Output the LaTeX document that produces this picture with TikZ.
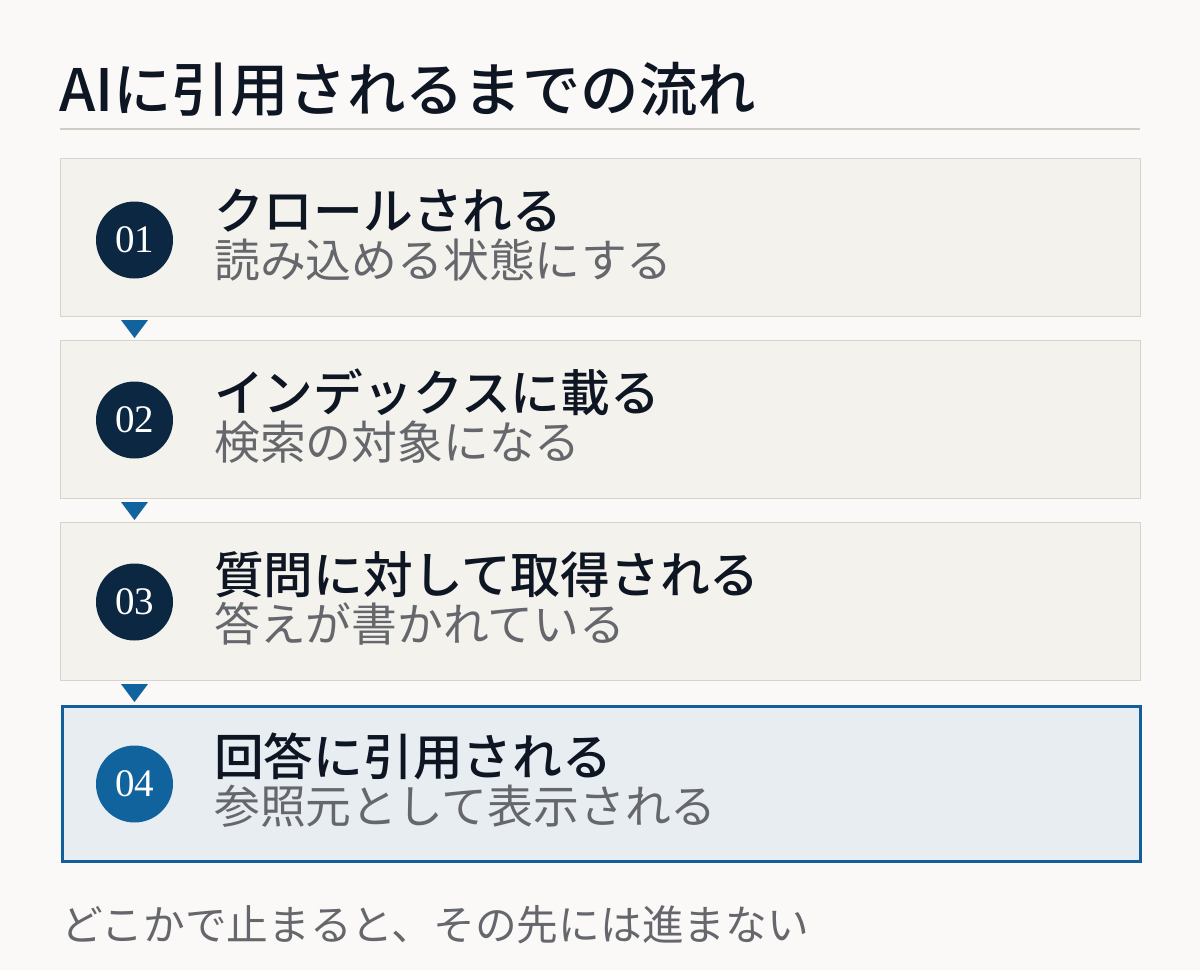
\documentclass[tikz,border=0pt]{standalone}
\usepackage{fontspec}
\setmainfont{Noto Sans CJK JP}
\newfontfamily\jpmed{Noto Sans CJK JP Medium}
\newfontfamily\numfont{Liberation Serif}
\usetikzlibrary{calc}
\definecolor{bgc}{HTML}{FAF9F7}
\definecolor{boxfill}{HTML}{F3F2EC}
\definecolor{boxline}{HTML}{D6D4CC}
\definecolor{hlfill}{HTML}{E8EDF2}
\definecolor{hlline}{HTML}{12609A}
\definecolor{navy}{HTML}{0B2741}
\definecolor{bluec}{HTML}{11639D}
\definecolor{inkc}{HTML}{0E1624}
\definecolor{grayc}{HTML}{66676D}
\definecolor{rulec}{HTML}{CFCDC4}
\tikzset{
  stepbox/.style={draw=boxline,line width=1pt,fill=boxfill,minimum width=1080pt,minimum height=158pt,inner sep=0pt,anchor=north west},
  hlbox/.style={draw=hlline,line width=2.6pt,fill=hlfill,minimum width=1078pt,minimum height=155pt,inner sep=0pt,anchor=north west},
  numcirc/.style={circle,fill=navy,minimum size=77pt,inner sep=0pt,text=white,font=\numfont\fontsize{39}{39}\selectfont},
  headtxt/.style={anchor=base west,inner sep=0pt,text=inkc,font=\jpmed\fontsize{49.7}{52}\selectfont},
  subtxt/.style={anchor=base west,inner sep=0pt,text=grayc,font=\fontsize{45.8}{48}\selectfont},
  tri/.style={fill=bluec}
}
\begin{document}
\begin{tikzpicture}[x=1pt,y=-1pt]
\fill[bgc] (0,0) rectangle (1200,970);
\useasboundingbox (0,0) rectangle (1200,970);
\node[anchor=base west,inner sep=0pt,text=inkc,font=\jpmed\fontsize{58.4}{60}\selectfont] (title) at (59,111) {AIに引用されるまでの流れ};
\draw[rulec,line width=2pt] (60,128.5) coordinate (r1) -- (1140,128.5) coordinate (r2);
\node[stepbox] (b1) at (60,158) {};
\node[stepbox] (b2) at (60,340) {};
\node[stepbox] (b3) at (60,522) {};
\node[hlbox] (b4) at (61.3,705.3) {};
\node[numcirc] (c1) at (134.5,240) {01};
\node[numcirc] (c2) at (134.5,420) {02};
\node[numcirc] (c3) at (134.5,602) {03};
\node[numcirc,fill=bluec] (c4) at (134.5,784) {04};
\node[headtxt] (h1) at (214,229) {クロールされる};
\node[subtxt] (s1) at (214,277) {読み込める状態にする};
\node[headtxt] (h2) at (214,411) {インデックスに載る};
\node[subtxt] (s2) at (214,459) {検索の対象になる};
\node[headtxt] (h3) at (214,593) {質問に対して取得される};
\node[subtxt] (s3) at (214,641) {答えが書かれている};
\node[headtxt] (h4) at (214,775) {回答に引用される};
\node[subtxt] (s4) at (214,823) {参照元として表示される};
\fill[tri] ($(b1.south west)+(61,3)$) -- ++(27,0) -- ++(-13.5,18) -- cycle;
\fill[tri] ($(b2.south west)+(61,3)$) -- ++(27,0) -- ++(-13.5,18) -- cycle;
\fill[tri] ($(b3.south west)+(61,3)$) -- ++(27,0) -- ++(-13.5,18) -- cycle;
\node[anchor=base west,inner sep=0pt,text=grayc,font=\fontsize{41.7}{43}\selectfont] (foot) at (61,940) {どこかで止まると、その先には進まない};
\end{tikzpicture}
\end{document}
